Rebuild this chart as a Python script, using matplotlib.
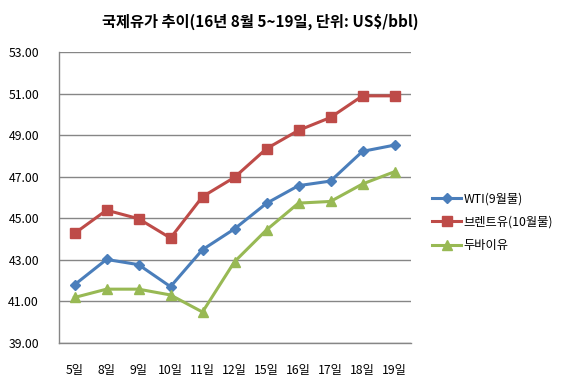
import matplotlib
matplotlib.use('Agg')
import matplotlib.pyplot as plt

plt.rcParams['font.family'] = ['Noto Sans CJK KR', 'DejaVu Sans']

# 날짜 (16년 8월)
days = ['5일', '8일', '9일', '10일', '11일', '12일', '15일', '16일', '17일', '18일', '19일']

# 유종별 가격 (US$/bbl)
wti = [41.80, 43.02, 42.77, 41.71, 43.49, 44.49, 45.72, 46.57, 46.79, 48.22, 48.52]
brent = [44.27, 45.39, 44.98, 44.05, 46.04, 46.97, 48.35, 49.23, 49.85, 50.89, 50.89]
dubai = [41.19, 41.59, 41.59, 41.31, 40.49, 42.91, 44.44, 45.73, 45.81, 46.65, 47.24]

fig = plt.figure(figsize=(5.73, 3.9), dpi=100)
ax = fig.add_axes([58.5 / 573, 47 / 390, 352 / 573, 291 / 390])

x = list(range(len(days)))
ax.plot(x, wti, color='#4a7ebb', marker='D', markersize=5, linewidth=2.2, label='WTI(9월물)')
ax.plot(x, brent, color='#be4b48', marker='s', markersize=7, linewidth=2.2, label='브렌트유(10월물)')
ax.plot(x, dubai, color='#98b954', marker='^', markersize=7.5, linewidth=2.2, label='두바이유')

ax.set_xlim(-0.5, len(days) - 0.5)
ax.set_ylim(39, 53)
yt = [39, 41, 43, 45, 47, 49, 51, 53]
ax.set_yticks(yt)
ax.set_yticklabels([f'{v:.2f}' for v in yt])
ax.set_xticks(x)
ax.set_xticklabels(days)
ax.tick_params(axis='both', length=0, labelsize=8.8)
ax.tick_params(axis='x', pad=15)
ax.tick_params(axis='y', pad=14)

ax.grid(axis='y', color='#868686', linewidth=1)
ax.set_axisbelow(True)
for side in ['top', 'right']:
    ax.spines[side].set_visible(False)
for side in ['left', 'bottom']:
    ax.spines[side].set_color('#868686')
    ax.spines[side].set_linewidth(1)

fig.text(0.455, 0.943, '국제유가 추이(16년 8월 5~19일, 단위: US$/bbl)', ha='center', va='center',
         fontsize=11, fontweight='bold')

ax.legend(loc='center left', bbox_to_anchor=(1.03, 0.415), frameon=False, fontsize=8.8,
          handlelength=2.4, handletextpad=0.2, labelspacing=0.85)

fig.savefig('out.png', dpi=100)
